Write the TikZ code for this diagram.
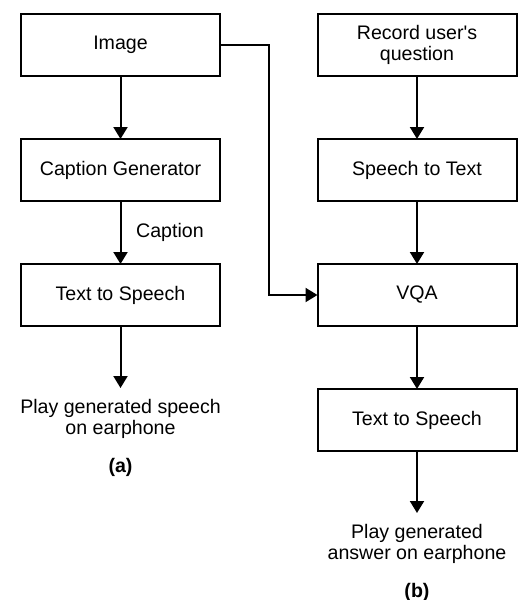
\documentclass[tikz,border=0pt]{standalone}
\usepackage{fontspec}
\setmainfont{Liberation Sans}
\usetikzlibrary{arrows.meta, positioning}

\begin{document}
\begin{tikzpicture}[
    font=\fontsize{9.8}{10.6}\selectfont,
    node distance=31.5pt and 48.75pt,
    block/.style={rectangle, draw, line width=1pt, minimum width=99.5pt, minimum height=31pt, inner sep=0pt, outer sep=0pt, align=center},
    outtext/.style={align=center, inner xsep=0pt, inner ysep=5.5pt},
    sublabel/.style={font=\fontsize{9.8}{10.6}\selectfont\bfseries},
    arrow/.style={-{Triangle[width=7pt,length=6pt]}, line width=1pt}
]
\useasboundingbox (0,0) rectangle (259pt,-300pt);

% (a) caption path
\node[block] (img) at (60.25pt,-22.5pt) {Image};
\node[block, below=of img] (capgen) {Caption Generator};
\node[block, below=of capgen] (tts) {Text to Speech};
\node[outtext, below=31pt of tts] (play) {Play generated speech\\on earphone};
\node[sublabel, below=0.5pt of play] (suba) {(a)};

% (b) question path
\node[block, right=of img] (rec) {Record user\textquotesingle s\\question};
\node[block, below=of rec] (stt) {Speech to Text};
\node[block, below=of stt] (vqa) {VQA};
\node[block, below=of vqa] (ttsb) {Text to Speech};
\node[outtext, below=31pt of ttsb] (playb) {Play generated\\answer on earphone};
\node[sublabel, below=0.5pt of playb] (subb) {(b)};

% Arrows
\draw[arrow] (img) -- (capgen);
\draw[arrow] (capgen) -- node[right, xshift=4pt] {Caption} (tts);
\draw[arrow] (tts) -- (play);
\draw[arrow] (rec) -- (stt);
\draw[arrow] (stt) -- (vqa);
\draw[arrow] (vqa) -- (ttsb);
\draw[arrow] (ttsb) -- (playb);
\draw[arrow] (img.east) -- ++(24.5pt,0) |- (vqa.west);

\end{tikzpicture}
\end{document}
